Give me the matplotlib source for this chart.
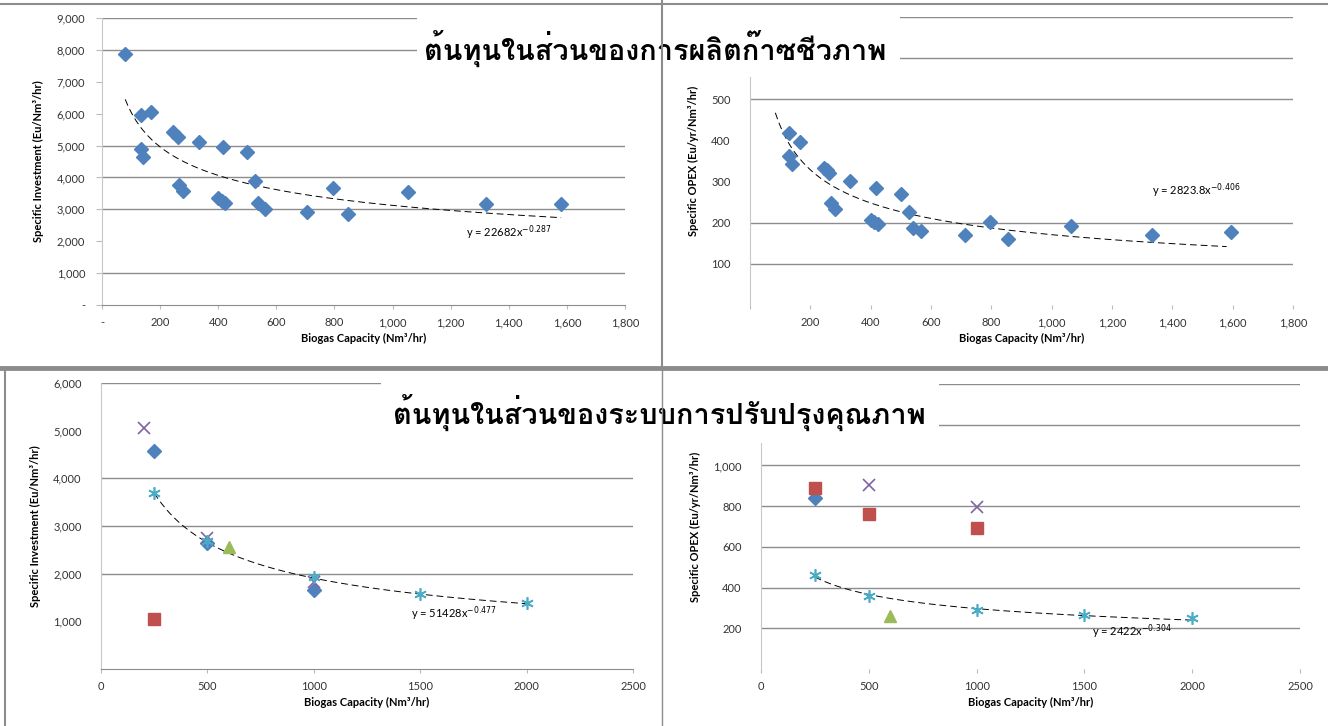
import matplotlib
matplotlib.use('Agg')
import matplotlib.pyplot as plt
from matplotlib import font_manager
from matplotlib.patches import Rectangle
from matplotlib.lines import Line2D
import numpy as np
from fontTools.ttLib import TTFont

# --- data ---
# top-left: biogas production, specific investment
inv_x = [80, 133, 167, 133, 141, 243, 261, 333, 417, 499, 265, 280, 525,
         399, 413, 423, 538, 562, 707, 794, 846, 1054, 1322, 1580]
inv_y = [7870, 5950, 6040, 4900, 4650, 5420, 5260, 5120, 4940, 4800, 3770,
         3560, 3880, 3350, 3260, 3190, 3200, 3000, 2920, 3660, 2850, 3540,
         3160, 3170]
# top-right: biogas production, specific OPEX
opex_x = [128, 130, 138, 165, 245, 255, 262, 330, 417, 502, 528, 268, 282,
          400, 411, 424, 540, 567, 712, 797, 854, 1065, 1333, 1594]
opex_y = [417, 363, 343, 396, 334, 329, 320, 302, 284, 271, 225, 249, 234,
          206, 202, 198, 188, 180, 169, 202, 161, 191, 169, 178]

# bottom-left: upgrading, specific investment (one list per marker series)
up_inv = {
    'diamond': ([250, 500, 1000], [4580, 2640, 1650]),
    'square': ([250], [1050]),
    'cross': ([200, 500, 1000], [5050, 2745, 1835]),
    'triangle': ([600], [2550]),
    'star': ([250, 500, 1000, 1500, 2000], [3700, 2675, 1940, 1570, 1375]),
}
# bottom-right: upgrading, specific OPEX
up_opex = {
    'diamond': ([250], [838]),
    'square': ([250, 500, 1000], [890, 760, 693]),
    'cross': ([500, 1000], [902, 798]),
    'triangle': ([600], [262]),
    'star': ([250, 500, 1000, 1500, 2000], [464, 360, 288, 265, 249]),
}

# power-law trend lines (coefficient, exponent, x from, x to)
trend1 = (22682, -0.287, 80, 1580)
trend2 = (2823.8, -0.406, 84, 1580)
trend3 = (51428, -0.477, 250, 2000)
trend4 = (2422, -0.304, 250, 2000)

title_top = 'ต้นทุนในส่วนของการผลิตก๊าซชีวภาพ'
title_bottom = 'ต้นทุนในส่วนของระบบการปรับปรุงคุณภาพ'


def thai_font():
    for f in font_manager.fontManager.ttflist:
        try:
            tt = TTFont(f.fname, fontNumber=0, lazy=True)
            cmap = tt.getBestCmap()
            if cmap and 0x0E15 in cmap and f.weight in (400, 'normal', 'regular'):
                return f.name
        except Exception:
            pass
    return 'DejaVu Sans'


THAI = thai_font()
FONT = 'Lato'

styles = {
    'diamond': dict(marker='D', color='#4F81BD', ms=7.5, mec='#4F81BD'),
    'square': dict(marker='s', color='#C0504D', ms=8, mec='#C0504D'),
    'cross': dict(marker='x', color='#8064A2', ms=8, mew=1.2),
    'triangle': dict(marker='^', color='#9BBB59', ms=8, mec='#9BBB59'),
    'star': dict(marker=(6, 2, 0), color='#4BACC6', ms=9, mew=1.2),
}

W, H = 1328, 726
fig = plt.figure(figsize=(W / 100, H / 100), dpi=100)


def px(x0, x1, y0, y1):
    return [x0 / W, 1 - y1 / H, (x1 - x0) / W, (y1 - y0) / H]


def fmt(v):
    return '-' if v == 0 else f'{v:,.0f}'


def setup(ax, xlim, xticks, xlabels, ylim, yticks, ylabels, grid, bottom_line,
          xlabel, ylabel):
    ax.set_xlim(*xlim)
    ax.set_ylim(*ylim)
    for v in grid:
        ax.axhline(v, color='#8C8C8C', lw=1.0, zorder=1)
    for s in ['top', 'right']:
        ax.spines[s].set_visible(False)
    ax.spines['left'].set_color('#C8C8C8')
    ax.spines['bottom'].set_color('#8C8C8C')
    ax.spines['bottom'].set_visible(bottom_line)
    ax.set_xticks(xticks)
    ax.set_xticklabels(xlabels, fontsize=8, family=FONT, color='#333333')
    ax.set_yticks(yticks)
    ax.set_yticklabels(ylabels, fontsize=8, family=FONT, color='#333333')
    ax.tick_params(axis='x', length=3, color='#BBBBBB', pad=6)
    ax.tick_params(axis='y', length=0, pad=14)
    ax.set_xlabel(xlabel, fontsize=8, family=FONT, fontweight='bold', labelpad=3)
    ax.set_ylabel(ylabel, fontsize=8, family=FONT, fontweight='bold', labelpad=9)


def trend(ax, t):
    a, b, x0, x1 = t
    xs = np.linspace(x0, x1, 200)
    ax.plot(xs, a * xs ** b, color='black', lw=0.7, ls=(0, (7, 4)), zorder=2)


# top-left
ax1 = fig.add_axes(px(102, 625, 18, 305))
x1t = list(range(0, 2000, 200))
y1t = list(range(0, 10000, 1000))
setup(ax1, (0, 1800), x1t, [fmt(v) for v in x1t], (0, 9000), y1t,
      [fmt(v) for v in y1t], [1000, 3000, 4000, 5000, 8000, 9000], True,
      'Biogas Capacity (Nm³/hr)', 'Specific Investment (Eu/Nm³/hr)')
ax1.tick_params(axis='y', length=4, color='#BBBBBB', pad=8)
trend(ax1, trend1)
ax1.plot(inv_x, inv_y, ls='none', zorder=3, **styles['diamond'])
ax1.text(1400, 2280, r'y = 22682x$^{-0.287}$', fontsize=8, family=FONT,
         ha='center', va='center')

# top-right (600 and 700 labels sit under the title box)
ax2 = fig.add_axes(px(750, 1293, 17, 305))
x2t = list(range(0, 2000, 200))
y2t = list(range(100, 800, 100))
setup(ax2, (0, 1800), x2t, [''] + [fmt(v) for v in x2t[1:]], (0, 700), y2t,
      [str(v) if v < 600 else '' for v in y2t], [100, 200, 500, 600, 700],
      False, 'Biogas Capacity (Nm³/hr)', 'Specific OPEX (Eu/yr/Nm³/hr)')
trend(ax2, trend2)
ax2.plot(opex_x, opex_y, ls='none', zorder=3, **styles['diamond'])
ax2.text(1480, 277, r'y = 2823.8x$^{-0.406}$', fontsize=8, family=FONT,
         ha='center', va='center')

# bottom-left
ax3 = fig.add_axes(px(101, 633, 383, 669))
x3t = list(range(0, 3000, 500))
y3t = list(range(1000, 7000, 1000))
setup(ax3, (0, 2500), x3t, [str(v) for v in x3t], (0, 6000), y3t,
      [fmt(v) for v in y3t], [2000, 3000, 4000, 6000], True,
      'Biogas Capacity (Nm³/hr)', 'Specific Investment (Eu/Nm³/hr)')
trend(ax3, trend3)
for k, (xs, ys) in up_inv.items():
    ax3.plot(xs, ys, ls='none', zorder=3, **styles[k])
ax3.text(1660, 1150, r'y = 51428x$^{-0.477}$', fontsize=8, family=FONT,
         ha='center', va='center')

# bottom-right (1,200 and 1,400 labels sit under the title box)
ax4 = fig.add_axes(px(761, 1300, 384, 669))
x4t = list(range(0, 3000, 500))
y4t = list(range(200, 1600, 200))
setup(ax4, (0, 2500), x4t, [str(v) for v in x4t], (0, 1400), y4t,
      [fmt(v) if v < 1200 else '' for v in y4t],
      [200, 400, 600, 800, 1000, 1200, 1400], False,
      'Biogas Capacity (Nm³/hr)', 'Specific OPEX (Eu/yr/Nm³/hr)')
trend(ax4, trend4)
for k, (xs, ys) in up_opex.items():
    ax4.plot(xs, ys, ls='none', zorder=3, **styles[k])
ax4.text(1720, 185, r'y = 2422x$^{-0.304}$', fontsize=8, family=FONT,
         ha='center', va='center')

# white boxes behind the Thai titles, then the titles
for (x0, x1, y0, y1) in [(417, 900, 8, 77), (381, 939, 372, 443)]:
    r = Rectangle((x0 / W, 1 - y1 / H), (x1 - x0) / W, (y1 - y0) / H,
                  transform=fig.transFigure, facecolor='white', edgecolor='none',
                  zorder=5)
    fig.add_artist(r)
fig.text(655 / W, 1 - 48 / H, title_top, fontsize=20.8, fontweight='bold',
         family=[THAI, 'DejaVu Sans'], ha='center', va='center', zorder=6)
fig.text(659 / W, 1 - 413 / H, title_bottom, fontsize=20.8, fontweight='bold',
         family=[THAI, 'DejaVu Sans'], ha='center', va='center', zorder=6)

# slide frame lines
frame = [((0, W), (4, 4), 1.5), ((662, 662), (0, 368), 1.5),
         ((0, W), (368, 368), 3.5), ((5, 5), (368, H), 1.5),
         ((662, 662), (368, H), 1.0)]
for xs, ys, lw in frame:
    fig.add_artist(Line2D([x / W for x in xs], [1 - y / H for y in ys],
                          transform=fig.transFigure, color='#8C8C8C', lw=lw,
                          zorder=7))

fig.savefig('out.png', dpi=100)
